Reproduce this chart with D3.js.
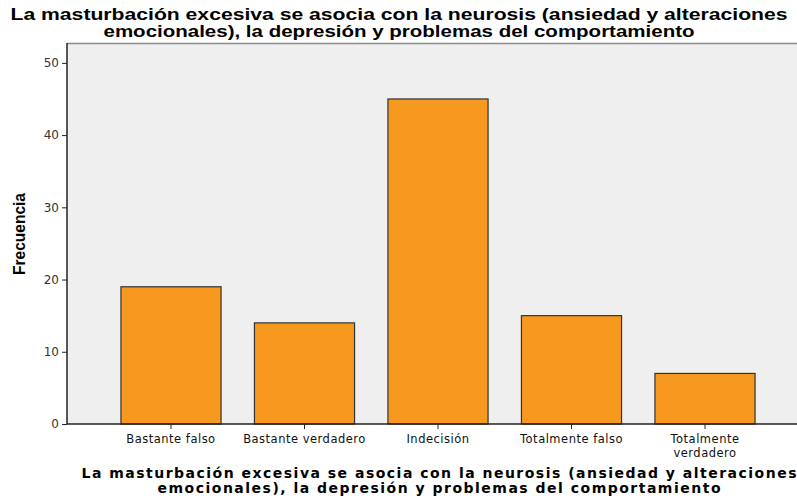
<!DOCTYPE html>
<html><head><meta charset="utf-8">
<script src="https://cdn.jsdelivr.net/npm/d3@7"></script>
<style>body{margin:0;background:#fff}svg{display:block}</style>
</head><body>
<svg id="c" width="797" height="499"></svg>
<script>
const categories = ["Bastante falso","Bastante verdadero","Indecisión","Totalmente falso","Totalmente verdadero"];
const categoryLines = [["Bastante falso"],["Bastante verdadero"],["Indecisión"],["Totalmente falso"],["Totalmente","verdadero"]];
const values = [19,14,45,15,7];
const yTicks = [0,10,20,30,40,50];
const titleLines = ["La masturbación excesiva se asocia con la neurosis (ansiedad y alteraciones","emocionales), la depresión y problemas del comportamiento"];
const yTitle = "Frecuencia";

const svg = d3.select("#c");
const L=67, R=797, T=43, B=424;
const x = d3.scaleBand().domain(categories).range([104.25,771.75]).paddingInner(0.25).paddingOuter(0.125);
const y = d3.scaleLinear().domain([0,52.75]).range([B,T]);

svg.append("rect").attr("x",L).attr("y",T).attr("width",R-L).attr("height",B-T).attr("fill","#efefef");
svg.append("line").attr("x1",L).attr("x2",R).attr("y1",T+0.5).attr("y2",T+0.5).attr("stroke","#8a8a8a").attr("stroke-width",1.5);

svg.selectAll("rect.bar").data(values).join("rect").attr("class","bar")
  .attr("x",(d,i)=>x(categories[i])).attr("width",x.bandwidth())
  .attr("y",d=>y(d)).attr("height",d=>B-y(d))
  .attr("fill","#f7981f").attr("stroke","#333").attr("stroke-width",1.2);

const ya = svg.append("g").attr("transform",`translate(${L},0)`)
  .call(d3.axisLeft(y).tickValues(yTicks).tickSize(5).tickPadding(3));
ya.select(".domain").attr("stroke","#222").attr("stroke-width",1.5).attr("d",`M0,${T}V${B}`);
ya.selectAll(".tick line").attr("stroke","#222");
ya.selectAll(".tick text").attr("font-family","DejaVu Sans, Verdana, sans-serif").attr("font-size",12).attr("fill","#333");

const xa = svg.append("g").attr("transform",`translate(0,${B})`)
  .call(d3.axisBottom(x).tickSize(5).tickFormat(""));
xa.select(".domain").attr("stroke","#222").attr("stroke-width",1.5).attr("d",`M${L},0H${R}`);
xa.selectAll(".tick line").attr("stroke","#222");
xa.selectAll(".tick").each(function(d,i){
  const g = d3.select(this);
  categoryLines[i].forEach((ln,j)=>g.append("text").attr("fill","#111")
    .attr("font-family","DejaVu Sans, Verdana, sans-serif").attr("font-size",11.5).attr("letter-spacing",0.5)
    .attr("text-anchor","middle").attr("x",0).attr("y",19+j*13.5).text(ln));
});

const titleWidths = [777,591];
titleLines.forEach((ln,j)=>svg.append("text").attr("x",399).attr("y",20+j*17)
  .attr("font-family","Liberation Sans, Arial, sans-serif").attr("font-weight","bold").attr("font-size",16.5)
  .attr("text-anchor","middle").attr("fill","#000")
  .attr("textLength",titleWidths[j]).attr("lengthAdjust","spacingAndGlyphs").text(ln));

svg.append("text").attr("transform","translate(25,234) rotate(-90)").attr("text-anchor","middle")
  .attr("font-family","Liberation Sans, Arial, sans-serif").attr("font-weight","bold").attr("font-size",17)
  .attr("textLength",82).attr("lengthAdjust","spacingAndGlyphs").text(yTitle);

const xWidths = [715,563];
titleLines.forEach((ln,j)=>svg.append("text").attr("x",439).attr("y",478+j*15)
  .attr("font-family","DejaVu Sans, Verdana, sans-serif").attr("font-weight","bold").attr("font-size",14)
  .attr("text-anchor","middle").attr("fill","#000")
  .attr("textLength",xWidths[j]).attr("lengthAdjust","spacing").text(ln));
</script>
</body></html>
